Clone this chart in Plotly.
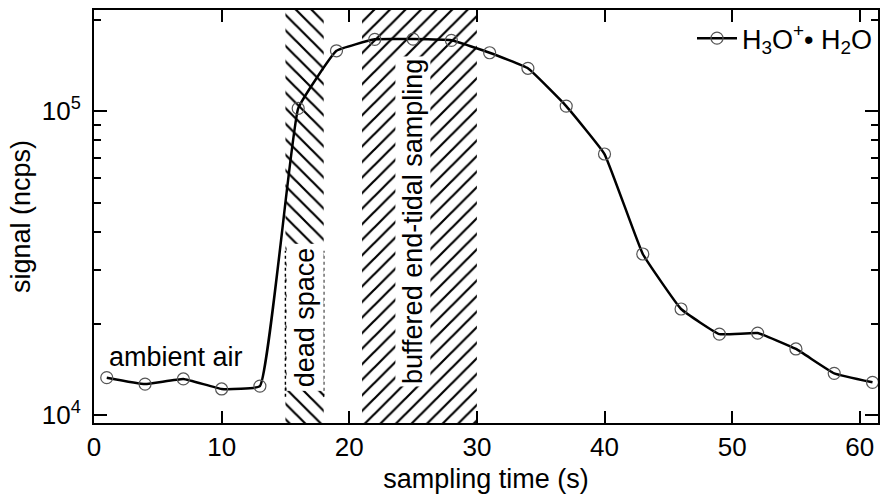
import numpy as np
import plotly.graph_objects as go

# ---- data ----
time_s = [1, 4, 7, 10, 13, 16, 19, 22, 25, 28, 31, 34, 37, 40, 43, 46, 49, 52, 55, 58, 61]
signal_ncps = [13270, 12640, 13140, 12180, 12450, 102000, 157800, 172100, 172400, 170800,
               155500, 138200, 103800, 72200, 33860, 22320, 18450, 18600, 16490, 13710, 12810]
series_name = "H<sub>3</sub>O<sup>+</sup>\u2022 H<sub>2</sub>O"

dead_space = [15, 18]
buffered = [21, 30]
region_labels = ["dead space", "buffered end-tidal sampling"]

x_ticks = [0, 10, 20, 30, 40, 50, 60]
y_ticks = [1e4, 1e5]
y_ticktext = ["10<sup>4</sup>", "10<sup>5</sup>"]
y_minor = [2e4, 3e4, 4e4, 5e4, 6e4, 7e4, 8e4, 9e4, 2e5]

x_range = [0, 61.43]
ylog_range = [3.9737, 5.3323]
ymin, ymax = 10 ** ylog_range[0], 10 ** ylog_range[1]

FONT = "Liberation Sans, Arial, Helvetica, sans-serif"

fig = go.Figure()

def region(xs, shape):
    return go.Scatter(
        x=[xs[0], xs[1], xs[1], xs[0], xs[0]],
        y=[ymin, ymin, ymax, ymax, ymin],
        mode="lines", fill="toself", line=dict(width=0),
        fillcolor="rgba(255,255,255,0)",
        fillpattern=dict(shape=shape, fgcolor="black", fgopacity=1,
                         bgcolor="rgba(255,255,255,0)", size=11, solidity=0.2),
        showlegend=False, hoverinfo="skip")

fig.add_trace(region(dead_space, "\\"))
fig.add_trace(region(buffered, "/"))

fig.add_trace(go.Scatter(
    x=time_s, y=signal_ncps, mode="lines+markers", name=series_name,
    line=dict(color="black", width=2.5, shape="spline", smoothing=0.3),
    marker=dict(symbol="circle-open", size=12, color="#555555", line=dict(width=1.2)),
))

# labels
ds_c = (dead_space[0] + dead_space[1]) / 2 + 0.05
fig.add_annotation(x=ds_c, y=4.322, text=region_labels[0], textangle=-90,
                   showarrow=False, bgcolor="white", borderpad=3,
                   font=dict(size=27, color="black", family=FONT))
for xv in dead_space:
    fig.add_shape(type="line", x0=xv, x1=xv, y0=10 ** 4.06, y1=10 ** 4.54,
                  line=dict(color="black", width=1.5, dash="dot"), layer="above")

fig.add_annotation(x=(buffered[0] + buffered[1]) / 2 - 0.55, y=4.6365,
                   text=region_labels[1], textangle=-90,
                   showarrow=False, bgcolor="white", borderpad=2,
                   font=dict(size=27, color="black", family=FONT))
fig.add_annotation(x=time_s[0], y=4.19, text="ambient air", xanchor="left",
                   showarrow=False, font=dict(size=27, color="black", family=FONT))

axis_common = dict(showline=True, linecolor="black", linewidth=2, mirror="allticks",
                   ticks="inside", tickcolor="black", tickwidth=1.5, showgrid=False,
                   zeroline=False, tickfont=dict(size=26, color="black", family=FONT))

fig.update_xaxes(range=x_range, tickvals=x_ticks, ticklen=12,
                 title=dict(text="sampling time (s)", font=dict(size=27, color="black", family=FONT),
                            standoff=8),
                 **axis_common)
fig.update_yaxes(type="log", range=ylog_range, tickvals=y_ticks, ticktext=y_ticktext, ticklen=13,
                 minor=dict(tickvals=y_minor, ticklen=7, ticks="inside", tickcolor="black",
                            tickwidth=1.5, showgrid=False),
                 ticklabelstandoff=6,
                 title=dict(text="signal (ncps)", font=dict(size=27, color="black", family=FONT),
                            standoff=3),
                 **axis_common)

fig.update_layout(
    width=882, height=497,
    margin=dict(l=94, r=2, t=10, b=74),
    paper_bgcolor="white", plot_bgcolor="white",
    font=dict(family=FONT, color="black"),
    legend=dict(x=1.0, xanchor="right", y=0.99, yanchor="top", bgcolor="rgba(0,0,0,0)",
                font=dict(size=27, color="black", family=FONT), itemwidth=40),
)

fig.write_html("out.html")
